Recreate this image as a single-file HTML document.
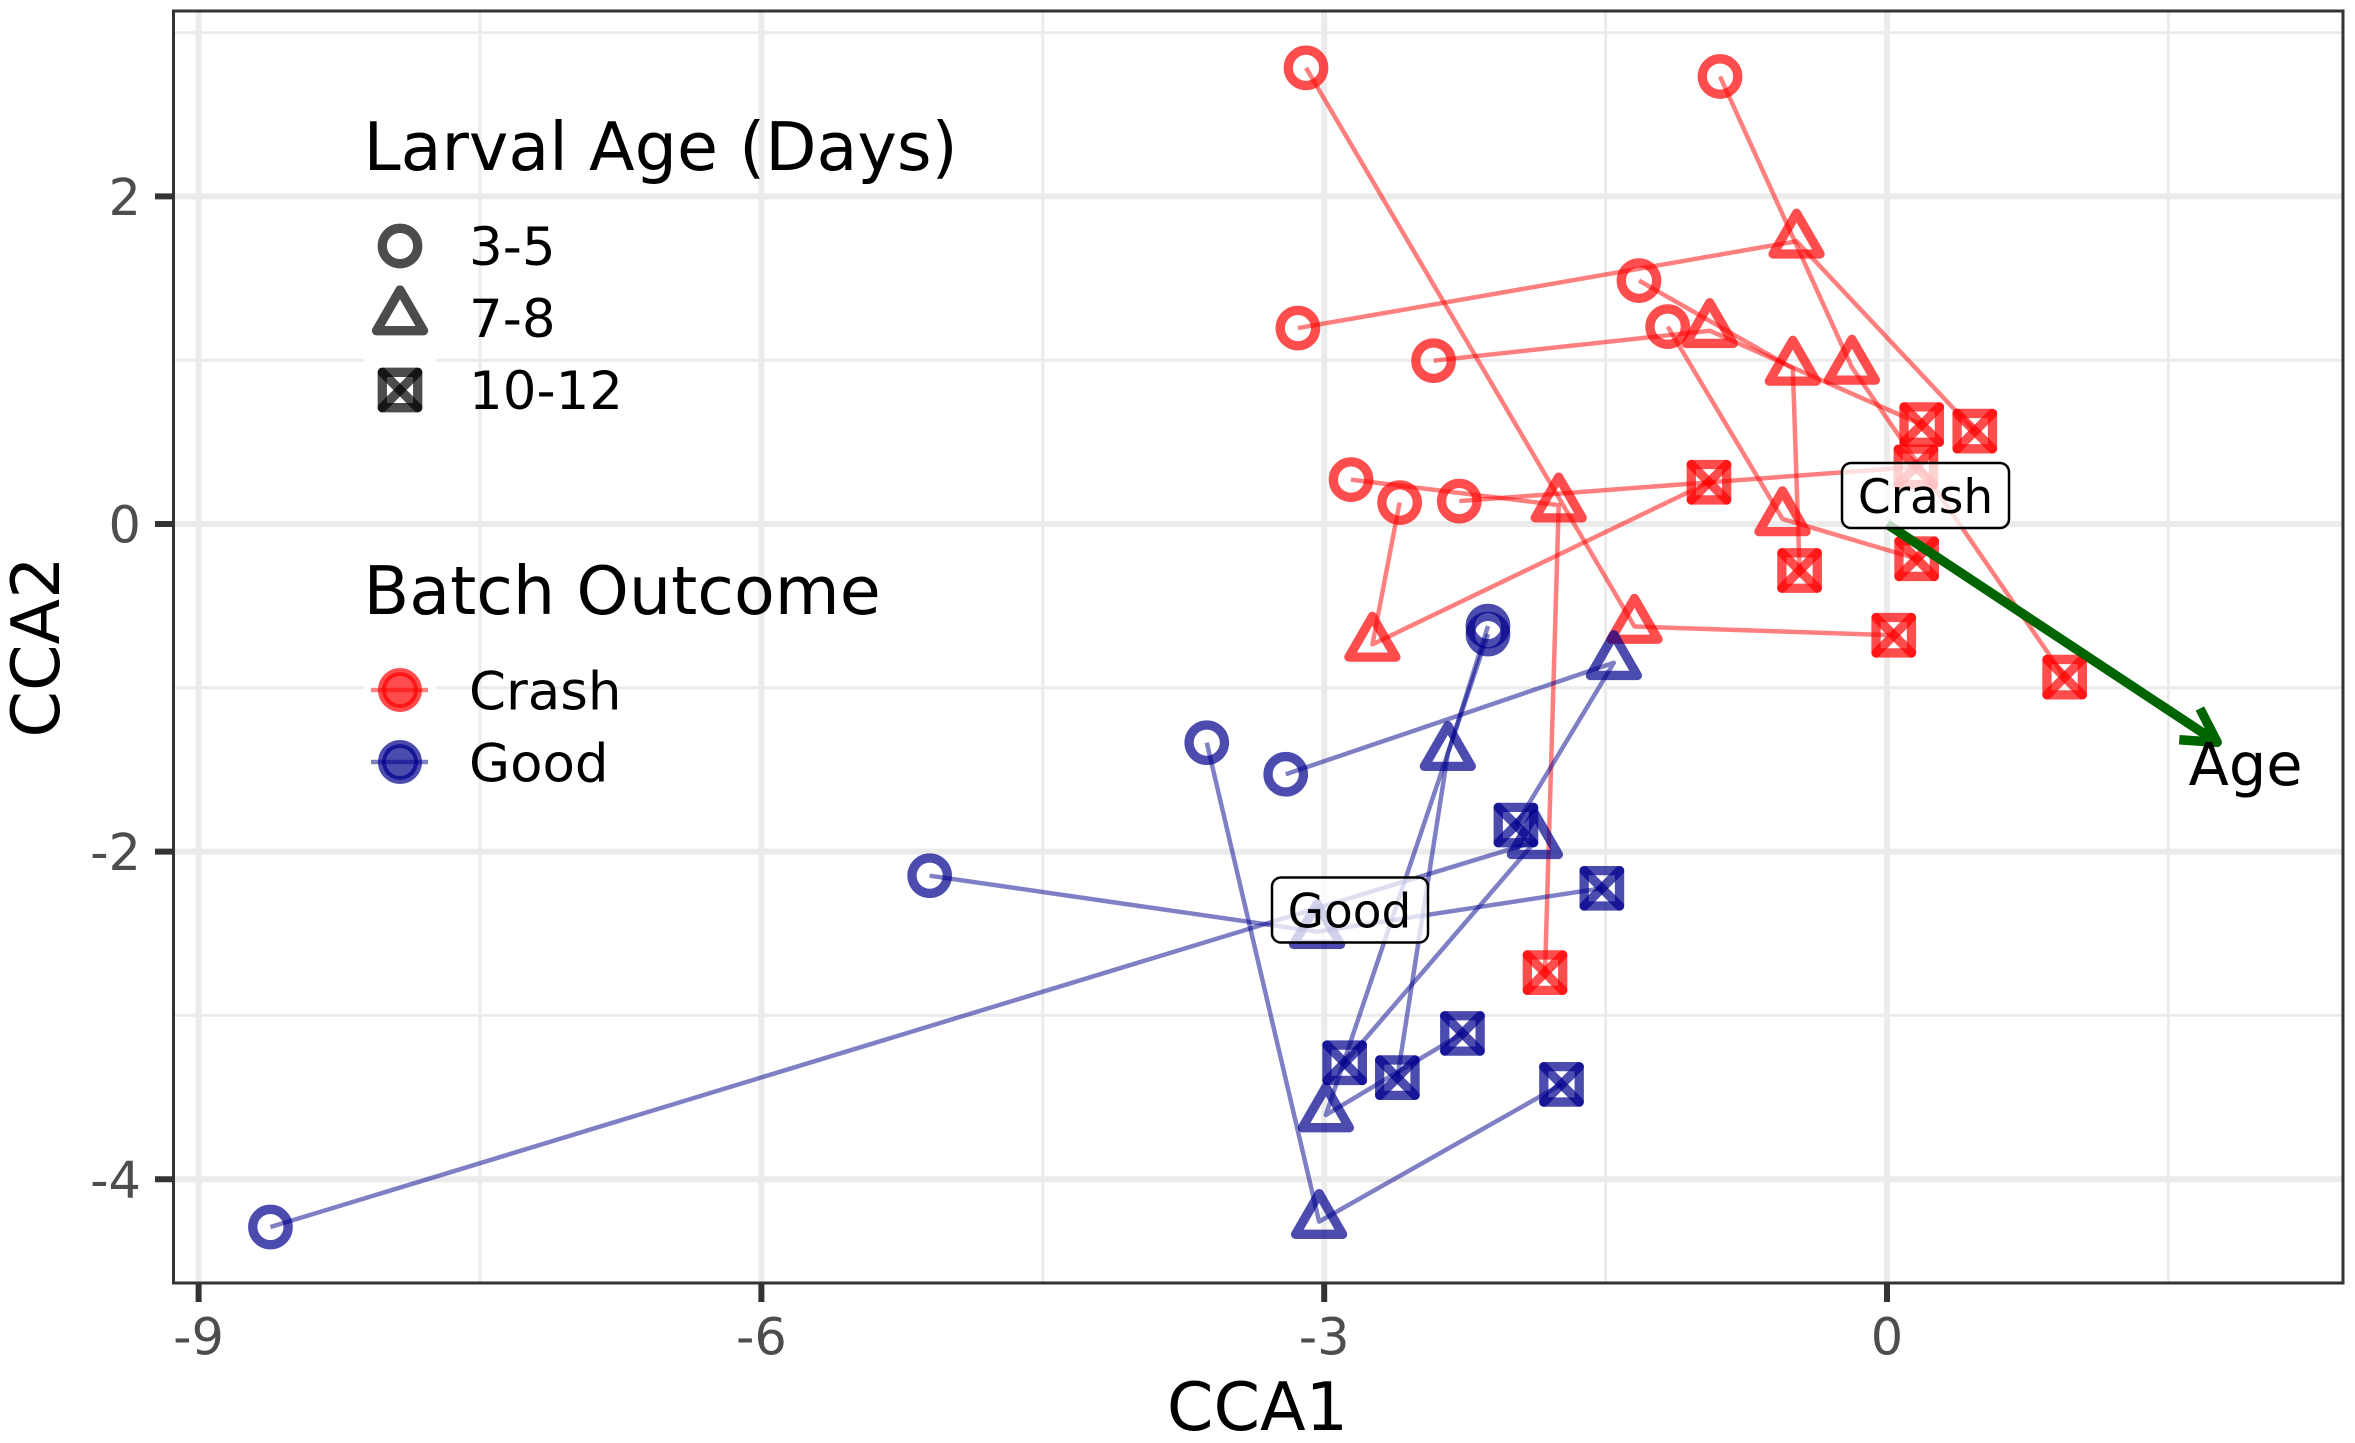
<!DOCTYPE html>
<html lang="en">
<head>
<meta charset="utf-8">
<title>CCA trajectories by larval age and batch outcome</title>
<style>
html,body{margin:0;padding:0;background:#fff}
svg{display:block}
text{font-family:"DejaVu Sans","Liberation Sans",sans-serif}
</style>
</head>
<body>
<svg id="chart" xmlns="http://www.w3.org/2000/svg" width="2355" height="1443" viewBox="0 0 2355 1443">
  <rect x="0" y="0" width="2355" height="1443" fill="#fff"/>
  <g id="grid"></g>
  <g id="legend-bg">
    <rect x="363.5" y="354" width="73" height="73" fill="#fff"/>
    <rect x="363.5" y="654" width="73" height="73" fill="#fff"/>
  </g>
  <g id="paths"></g>
  <g id="points"></g>
  <g id="vector"></g>
  <g id="labels">
    <rect x="1842" y="463" width="167" height="65" rx="9" fill="#fff" fill-opacity="0.75" stroke="#000" stroke-width="2.5"/>
    <text x="1925.5" y="513" font-size="47" text-anchor="middle" fill="#000">Crash</text>
    <rect x="1272" y="877.5" width="156" height="65" rx="9" fill="#fff" fill-opacity="0.75" stroke="#000" stroke-width="2.5"/>
    <text x="1349.5" y="927.5" font-size="47" text-anchor="middle" fill="#000">Good</text>
    <text x="2188.5" y="785" font-size="59" fill="#000">Age</text>
  </g>
  <g id="legend">
    <text x="363.5" y="170" font-size="66.7" fill="#000">Larval Age (Days)</text>
    <g id="age-keys"></g>
    <text x="469" y="265" font-size="53" fill="#000">3-5</text>
    <text x="469" y="337" font-size="53" fill="#000">7-8</text>
    <text x="469" y="409" font-size="53" fill="#000">10-12</text>
    <text x="363.5" y="614" font-size="66.7" fill="#000">Batch Outcome</text>
    <g>
      <line x1="371" x2="428" y1="690" y2="690" stroke="#f00" stroke-opacity="0.5" stroke-width="4.5"/>
      <circle cx="400" cy="690" r="18" fill="#f00" fill-opacity="0.7"/>
      <circle cx="400" cy="690" r="18" fill="none" stroke="#f00" stroke-opacity="0.7" stroke-width="8"/>
      <text x="469" y="709.5" font-size="53" fill="#000">Crash</text>
    </g>
    <g>
      <line x1="371" x2="428" y1="762" y2="762" stroke="#00008b" stroke-opacity="0.5" stroke-width="4.5"/>
      <circle cx="400" cy="762" r="18" fill="#00008b" fill-opacity="0.7"/>
      <circle cx="400" cy="762" r="18" fill="none" stroke="#00008b" stroke-opacity="0.7" stroke-width="8"/>
      <text x="469" y="781.5" font-size="53" fill="#000">Good</text>
    </g>
  </g>
  <rect x="173.5" y="11" width="2169.5" height="1272" fill="none" stroke="#333" stroke-width="3"/>
  <g id="axes"></g>
  <text x="1257.5" y="1430" font-size="66.7" text-anchor="middle" fill="#000">CCA1</text>
  <text transform="translate(59,647) rotate(-90)" font-size="66.7" text-anchor="middle" fill="#000">CCA2</text>
</svg>
<script>
// ---- Axis ticks ----
const xMajorTicks = [-9, -6, -3, 0];
const xMinorTicks = [-7.5, -4.5, -1.5, 1.5];
const yMajorTicks = [-4, -2, 0, 2];
const yMinorTicks = [-3, -1, 1, 3];
const xTickLabels = ['-9', '-6', '-3', '0'];
const yTickLabels = ['-4', '-2', '0', '2'];

// ---- Crash batches: one row per batch, in age order ----
const crashX = [
  [-3.097, -1.346, 0.036],
  [-0.890, -0.187, 0.947],
  [-2.417, -0.945, 0.185],
  [-1.322, -0.502, -0.466],
  [-3.140, -0.482, 0.468],
  [-1.169, -0.557, 0.158],
  [-2.857, -1.750, -1.823],
  [-2.280, 0.154],
  [-2.598, -2.743, -0.949]
];
const crashY = [
  [2.785, -0.626, -0.679],
  [2.732, 0.956, -0.935],
  [0.997, 1.180, 0.607],
  [1.486, 0.950, -0.284],
  [1.196, 1.726, 0.567],
  [1.205, 0.031, -0.212],
  [0.271, 0.115, -2.739],
  [0.140, 0.349],
  [0.131, -0.735, 0.255]
];
const crashAges = [
  ['3-5', '7-8', '10-12'],
  ['3-5', '7-8', '10-12'],
  ['3-5', '7-8', '10-12'],
  ['3-5', '7-8', '10-12'],
  ['3-5', '7-8', '10-12'],
  ['3-5', '7-8', '10-12'],
  ['3-5', '7-8', '10-12'],
  ['3-5', '10-12'],
  ['3-5', '7-8', '10-12']
];

// ---- Good batches ----
const goodX = [
  [-3.205, -1.456, -1.978],
  [-8.617, -1.877, -2.891],
  [-5.103, -3.038, -1.520],
  [-3.626, -3.027, -1.735],
  [-2.127, -2.341, -2.610],
  [-2.127, -2.991, -2.263]
];
const goodY = [
  [-1.528, -0.847, -1.838],
  [-4.292, -1.940, -3.289],
  [-2.147, -2.489, -2.224],
  [-1.335, -4.259, -3.421],
  [-0.623, -1.402, -3.380],
  [-0.672, -3.608, -3.110]
];
const goodAges = [
  ['3-5', '7-8', '10-12'],
  ['3-5', '7-8', '10-12'],
  ['3-5', '7-8', '10-12'],
  ['3-5', '7-8', '10-12'],
  ['3-5', '7-8', '10-12'],
  ['3-5', '7-8', '10-12']
];

// ---- Age environmental vector ----
const ageVectorX = [0, 1.76];
const ageVectorY = [0, -1.333];

const SVGNS = 'http://www.w3.org/2000/svg';
const sx = v => 1887 + 187.6 * v;
const sy = v => 524 - 163.8 * v;
const PANEL = { left: 173.5, right: 2343, top: 11, bottom: 1283 };

function make(parent, tag, attrs) {
  const el = document.createElementNS(SVGNS, tag);
  for (const k in attrs) el.setAttribute(k, attrs[k]);
  parent.appendChild(el);
  return el;
}

// ---- Gridlines ----
const gridG = document.getElementById('grid');
xMinorTicks.forEach(v => {
  const el = make(gridG, 'line', { x1: sx(v), x2: sx(v), y1: PANEL.top, y2: PANEL.bottom, stroke: '#ebebeb', 'stroke-width': 3 });
  
  
});
yMinorTicks.forEach(v => {
  const el = make(gridG, 'line', { x1: PANEL.left, x2: PANEL.right, y1: sy(v), y2: sy(v), stroke: '#ebebeb', 'stroke-width': 3 });
  
  
});
xMajorTicks.forEach(v => {
  const el = make(gridG, 'line', { x1: sx(v), x2: sx(v), y1: PANEL.top, y2: PANEL.bottom, stroke: '#ebebeb', 'stroke-width': 6 });
  
  
});
yMajorTicks.forEach(v => {
  const el = make(gridG, 'line', { x1: PANEL.left, x2: PANEL.right, y1: sy(v), y2: sy(v), stroke: '#ebebeb', 'stroke-width': 6 });
  
  
});

// ---- Axis ticks and labels ----
const axesG = document.getElementById('axes');
xMajorTicks.forEach((v, i) => {
  const t = make(axesG, 'line', { x1: sx(v), x2: sx(v), y1: PANEL.bottom, y2: 1302, stroke: '#333', 'stroke-width': 6 });
  
  
  const l = make(axesG, 'text', { x: sx(v), y: 1354.5, 'font-size': 51, 'text-anchor': 'middle', fill: '#4d4d4d' });
  l.textContent = xTickLabels[i];
  
  
});
yMajorTicks.forEach((v, i) => {
  const t = make(axesG, 'line', { x1: 155, x2: PANEL.left, y1: sy(v), y2: sy(v), stroke: '#333', 'stroke-width': 6 });
  
  
  const l = make(axesG, 'text', { x: 141, y: sy(v) + 18.6, 'font-size': 51, 'text-anchor': 'end', fill: '#4d4d4d' });
  l.textContent = yTickLabels[i];
  
  
});

// ---- Marker glyphs ----
const R = 17.7, SW = 9.3;
function drawMarker(parent, age, cx, cy, color) {
  const common = { fill: 'none', stroke: color, 'stroke-opacity': 0.7, 'stroke-width': SW, 'stroke-linejoin': 'round', 'stroke-linecap': 'round' };
  const g = make(parent, 'g', {});
  if (age === '3-5') {
    
    make(g, 'circle', Object.assign({ cx, cy, r: R }, common));
  } else if (age === '7-8') {
    
    const pts = [[cx, cy - 28], [cx + 23.5, cy + 12.7], [cx - 23.5, cy + 12.7]].map(p => p.join(',')).join(' ');
    make(g, 'polygon', Object.assign({ points: pts }, common));
  } else {
    
    make(g, 'rect', Object.assign({ x: cx - R, y: cy - R, width: 2 * R, height: 2 * R }, common));
    make(g, 'line', Object.assign({ x1: cx - R, y1: cy - R, x2: cx + R, y2: cy + R }, common));
    make(g, 'line', Object.assign({ x1: cx - R, y1: cy + R, x2: cx + R, y2: cy - R }, common));
  }
  
  return g;
}

// ---- Trajectories ----
const pathsG = document.getElementById('paths');
const pointsG = document.getElementById('points');
function drawSeries(xs, ys, ages, color, name) {
  xs.forEach((row, i) => {
    const d = row.map((x, j) => sx(x) + ',' + sy(ys[i][j])).join(' ');
    const line = make(pathsG, 'polyline', { points: d, fill: 'none', stroke: color, 'stroke-opacity': 0.5, 'stroke-width': 4.5, 'stroke-linejoin': 'round' });
    
    
  });
  xs.forEach((row, i) => {
    row.forEach((x, j) => {
      drawMarker(pointsG, ages[i][j], sx(x), sy(ys[i][j]), color);
    });
  });
}
drawSeries(crashX, crashY, crashAges, '#ff0000', 'crash');
drawSeries(goodX, goodY, goodAges, '#00008b', 'good');

// ---- Age vector ----
const vectorG = document.getElementById('vector');
const vx0 = sx(ageVectorX[0]), vy0 = sy(ageVectorY[0]);
const vx1 = sx(ageVectorX[1]), vy1 = sy(ageVectorY[1]);
const vecLine = make(vectorG, 'line', { x1: vx0, y1: vy0, x2: vx1, y2: vy1, stroke: '#006400', 'stroke-width': 9.5 });


const ang = Math.atan2(vy1 - vy0, vx1 - vx0);
const headLen = 38, headAng = 29.5 * Math.PI / 180;
const hx1 = vx1 - headLen * Math.cos(ang - headAng), hy1 = vy1 - headLen * Math.sin(ang - headAng);
const hx2 = vx1 - headLen * Math.cos(ang + headAng), hy2 = vy1 - headLen * Math.sin(ang + headAng);
const vecHead = make(vectorG, 'polyline', { points: hx1 + ',' + hy1 + ' ' + vx1 + ',' + vy1 + ' ' + hx2 + ',' + hy2, fill: 'none', stroke: '#006400', 'stroke-width': 9.5, 'stroke-linejoin': 'round' });



// ---- Age legend keys ----
const keysG = document.getElementById('age-keys');
drawMarker(keysG, '3-5', 400, 246, '#000000');
drawMarker(keysG, '7-8', 400, 318, '#000000');
drawMarker(keysG, '10-12', 400, 390, '#000000');
</script>
</body>
</html>
